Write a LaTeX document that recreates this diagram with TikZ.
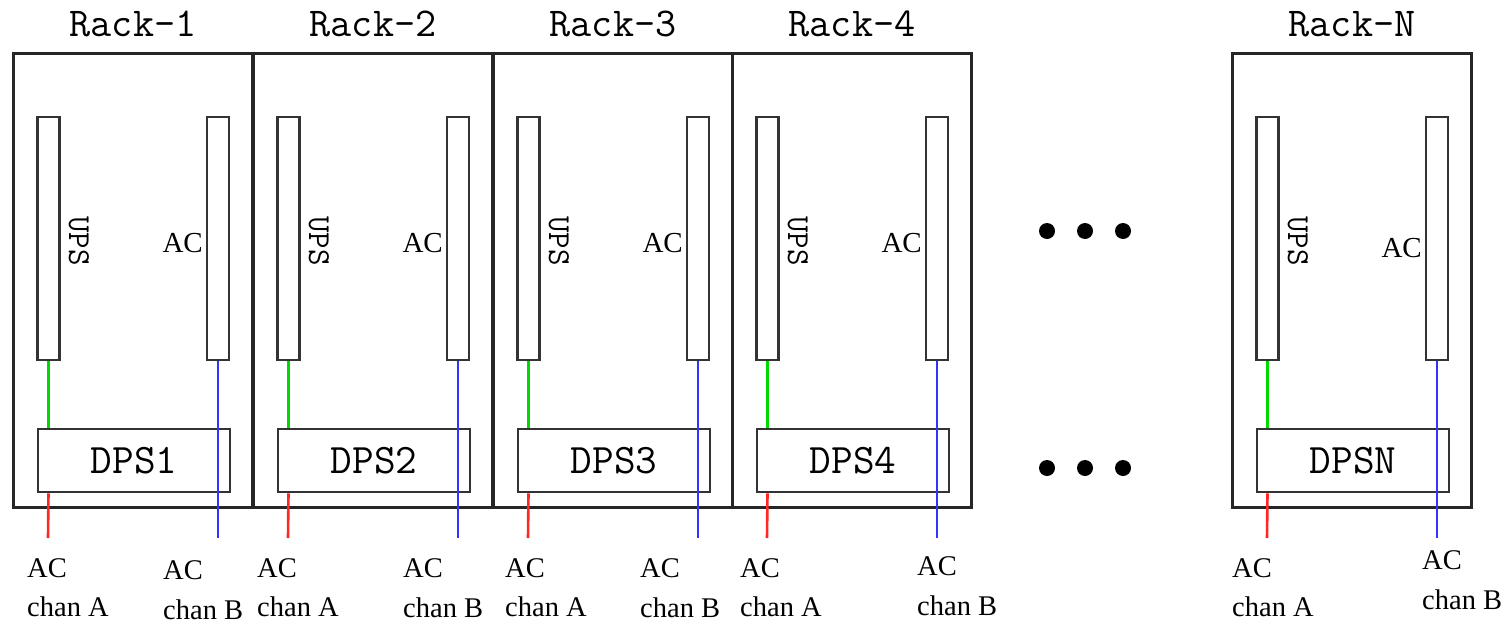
\documentclass[tikz,border=0pt]{standalone}
\usepackage{fontspec}
\setmainfont{Liberation Serif}
\begin{document}
\begin{tikzpicture}[x=1pt,y=-1pt,
  rackbox/.style={draw=black!85,line width=3pt,minimum width=239pt,minimum height=454pt,inner sep=0pt},
  barbox/.style={draw=black!80,line width=2.6pt,minimum width=22pt,minimum height=243pt,inner sep=0pt,fill=white},
  dpsbox/.style={draw=black!80,line width=2.6pt,minimum width=192pt,minimum height=63pt,inner sep=0pt,
     font=\ttfamily\addfontfeature{FakeBold=0.6}\fontsize{42}{42}\selectfont},
  racklab/.style={font=\ttfamily\addfontfeature{FakeBold=0.6}\fontsize{41}{41}\selectfont,inner sep=0pt},
  upslab/.style={font=\ttfamily\addfontfeature{FakeBold=0.6}\fontsize{32}{32}\selectfont,inner sep=0pt,rotate=-90},
  aclab/.style={font=\fontsize{29}{29}\selectfont,inner sep=0pt,anchor=east},
  botlab/.style={font=\fontsize{28.5}{28.5}\selectfont,inner sep=0pt,anchor=west},
  wireA/.style={draw=red!85,line width=2.6pt},
  wireG/.style={draw=green!85!black,line width=2.6pt},
  wireB/.style={draw=blue!80,line width=2.6pt},
  dotn/.style={circle,fill=black,minimum size=16pt,inner sep=0pt}
]
\useasboundingbox (0,0) rectangle (1502,624);
\foreach \i/\dx/\ax/\bx/\by/\acy in {1/0/27/163/0/243, 2/240/257/403/-2/243, 3/480/505/640/-2/243, 4/719/740/917/-4/243, N/1219/1232/1422/-10/248}{
  \node[rackbox] (rack\i) at (132.5+\dx,280) {};
  \node[racklab] (rlab\i) at (133+\dx,24) {Rack-\i};
  \node[barbox] (ups\i) at (48.5+\dx,238.5) {};
  \node[barbox] (acb\i) at (218+\dx,238.5) {};
  \node[dpsbox] (dps\i) at (134+\dx,460.5) {DPS\i};
  \node[upslab] (upst\i) at (79+\dx,241) {UPS};
  \node[aclab] (act\i) at (203+\dx,\acy) {AC};
  \coordinate (aend\i) at (48+\dx,538);
  \coordinate (bend\i) at (218+\dx,538);
  \draw[wireG] (ups\i.south) -- (ups\i.south |- dps\i.north);
  \draw[wireA] (ups\i.south |- dps\i.south) -- (aend\i);
  \draw[wireB] (acb\i.south) -- (bend\i);
  \node[botlab] (acA\i) at (\ax,568) {AC};
  \node[botlab] (chA\i) at (\ax,607) {chan A};
  \node[botlab] (acB\i) at (\bx,570+\by) {AC};
  \node[botlab] (chB\i) at (\bx,610+\by) {chan B};
}
\node[dotn] (d1) at (1047,231) {};
\node[dotn] (d2) at (1085,231) {};
\node[dotn] (d3) at (1123,231) {};
\node[dotn] (d4) at (1047,468) {};
\node[dotn] (d5) at (1085,468) {};
\node[dotn] (d6) at (1123,468) {};
\end{tikzpicture}
\end{document}
